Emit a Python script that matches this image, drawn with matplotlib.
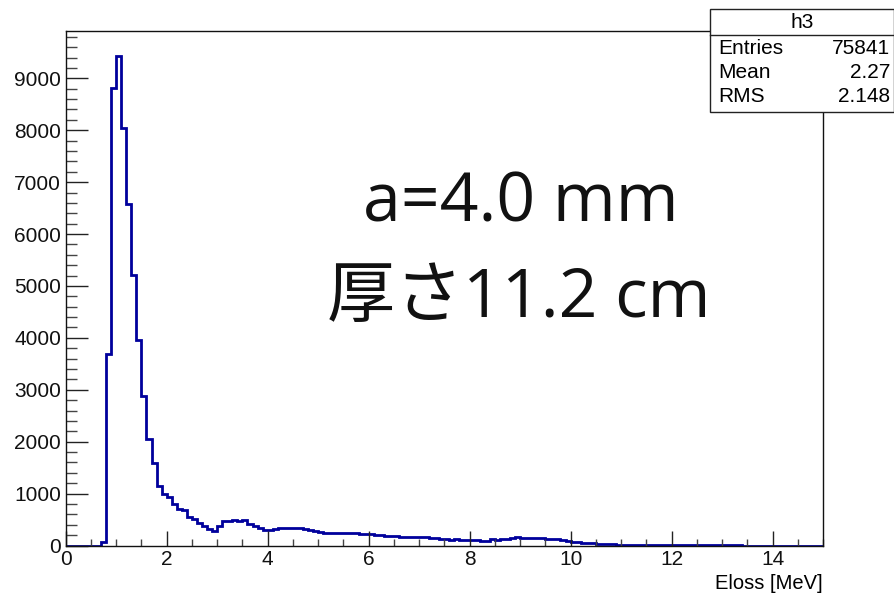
import numpy as np
import matplotlib
matplotlib.use("Agg")
import matplotlib.pyplot as plt
from matplotlib.patches import Rectangle
from matplotlib.lines import Line2D
from matplotlib.ticker import MultipleLocator

# ---- data (counts per 0.1 MeV bin, 0..15 MeV) ----
bin_width = 0.1
x_min, x_max = 0.0, 15.0
counts = [
    0, 0, 0, 0, 0, 0, 0, 70, 3690, 8810,                      # 0.0 - 0.9
    9440, 8045, 6577, 5207, 3967, 2886, 2056, 1580, 1150, 990,  # 1.0 - 1.9
    942, 795, 705, 680, 556, 506, 429, 382, 313, 280,           # 2.0 - 2.9
    376, 467, 479, 486, 479, 498, 421, 382, 344, 305,           # 3.0 - 3.9
    305, 313, 328, 336, 344, 344, 336, 320, 290, 277,           # 4.0 - 4.9
    262, 245, 238, 250, 235, 248, 238, 232, 230, 225,           # 5.0 - 5.9
    225, 210, 200, 192, 180, 178, 170, 167, 172, 160,           # 6.0 - 6.9
    161, 158, 154, 150, 130, 116, 112, 118, 108, 100,           # 7.0 - 7.9
    97, 100, 95, 90, 116, 105, 118, 125, 135, 161,              # 8.0 - 8.9
    150, 148, 145, 142, 138, 130, 122, 116, 100, 85,            # 9.0 - 9.9
    75, 62, 50, 42, 39, 32, 28, 24, 20, 18,                     # 10.0 - 10.9
    15, 13, 11, 10, 8, 7, 6, 5, 5, 4,                           # 11.0 - 11.9
    4, 3, 3, 3, 2, 2, 2, 2, 1, 1,                               # 12.0 - 12.9
    1, 1, 1, 1, 0, 0, 0, 0, 0, 0,                               # 13.0 - 13.9
    0, 0, 0, 0, 0, 0, 0, 0, 0, 0,                               # 14.0 - 14.9
]
hist_name = "h3"
stat_names = ["Entries", "Mean", "RMS"]
stat_values = ["75841", "2.27", "2.148"]
x_label = "Eloss [MeV]"
note_lines = ["a=4.0 mm", "厚さ11.2 cm"]

counts = np.array(counts, dtype=float)
edges = np.linspace(x_min, x_max, len(counts) + 1)

W, H = 895, 593
fig = plt.figure(figsize=(W / 100, H / 100), dpi=100)
fig.patch.set_facecolor("white")

ax_l, ax_r, ax_t, ax_b = 65.7, 823, 31, 545.5
ax = fig.add_axes([ax_l / W, 1 - ax_b / H, (ax_r - ax_l) / W, (ax_b - ax_t) / H])

ax.stairs(counts, edges, color="#00009c", linewidth=2.0)

ax.set_xlim(x_min, x_max)
ax.set_ylim(0, counts.max() * 1.05)

sfont = ["Liberation Sans", "DejaVu Sans"]

ax.xaxis.set_major_locator(MultipleLocator(2))
ax.xaxis.set_minor_locator(MultipleLocator(0.5))
ax.yaxis.set_major_locator(MultipleLocator(1000))
ax.yaxis.set_minor_locator(MultipleLocator(200))

ax.tick_params(axis="x", which="major", direction="in", length=10.8, width=1.0,
               color="#222222", pad=3.5, top=False)
ax.tick_params(axis="x", which="minor", direction="in", length=5.4, width=1.0,
               color="#444444", top=False)
ax.tick_params(axis="y", which="major", direction="in", length=15.8, width=1.0,
               color="#222222", pad=3.4, right=False)
ax.tick_params(axis="y", which="minor", direction="in", length=7.9, width=1.0,
               color="#444444", right=False)
for lab in ax.get_xticklabels() + ax.get_yticklabels():
    lab.set_fontfamily(sfont)
    lab.set_fontsize(15)
    lab.set_color("#111111")

for sp in ax.spines.values():
    sp.set_linewidth(1.0)
    sp.set_color("#111111")

ax.set_xlabel(x_label, loc="right", fontsize=14.5, fontfamily=sfont, labelpad=3)

# big annotation text
big_font = ["Open Sans", "Noto Sans CJK JP", "DejaVu Sans"]
fig.text(521 / W, 1 - 222 / H, note_lines[0], ha="center", va="baseline",
         fontsize=49, fontfamily=big_font, color="#111111")
fig.text(519 / W, 1 - 317 / H, note_lines[1], ha="center", va="baseline",
         fontsize=49, fontfamily=big_font, color="#111111")

# stats box
bx0, bx1, by0, by1, bsep = 710, 894, 9, 112, 35
fig.patches.append(Rectangle((bx0 / W, 1 - by1 / H), (bx1 - bx0) / W, (by1 - by0) / H,
                             transform=fig.transFigure, facecolor="white",
                             edgecolor="#222222", linewidth=1.0, zorder=10))
fig.lines.append(Line2D([bx0 / W, bx1 / W], [1 - bsep / H, 1 - bsep / H],
                        transform=fig.transFigure, color="#222222", linewidth=1.0,
                        zorder=11))
fig.text((bx0 + bx1) / 2 / W, 1 - 22 / H, hist_name, ha="center", va="center",
         fontsize=15, fontfamily=sfont, zorder=12)
for i, (n, v) in enumerate(zip(stat_names, stat_values)):
    yy = 1 - (48 + 24.5 * i) / H
    fig.text(718 / W, yy, n, ha="left", va="center", fontsize=15,
             fontfamily=sfont, zorder=12)
    fig.text(890 / W, yy, v, ha="right", va="center", fontsize=15,
             fontfamily=sfont, zorder=12)

fig.savefig("out.png", dpi=100, facecolor="white")
